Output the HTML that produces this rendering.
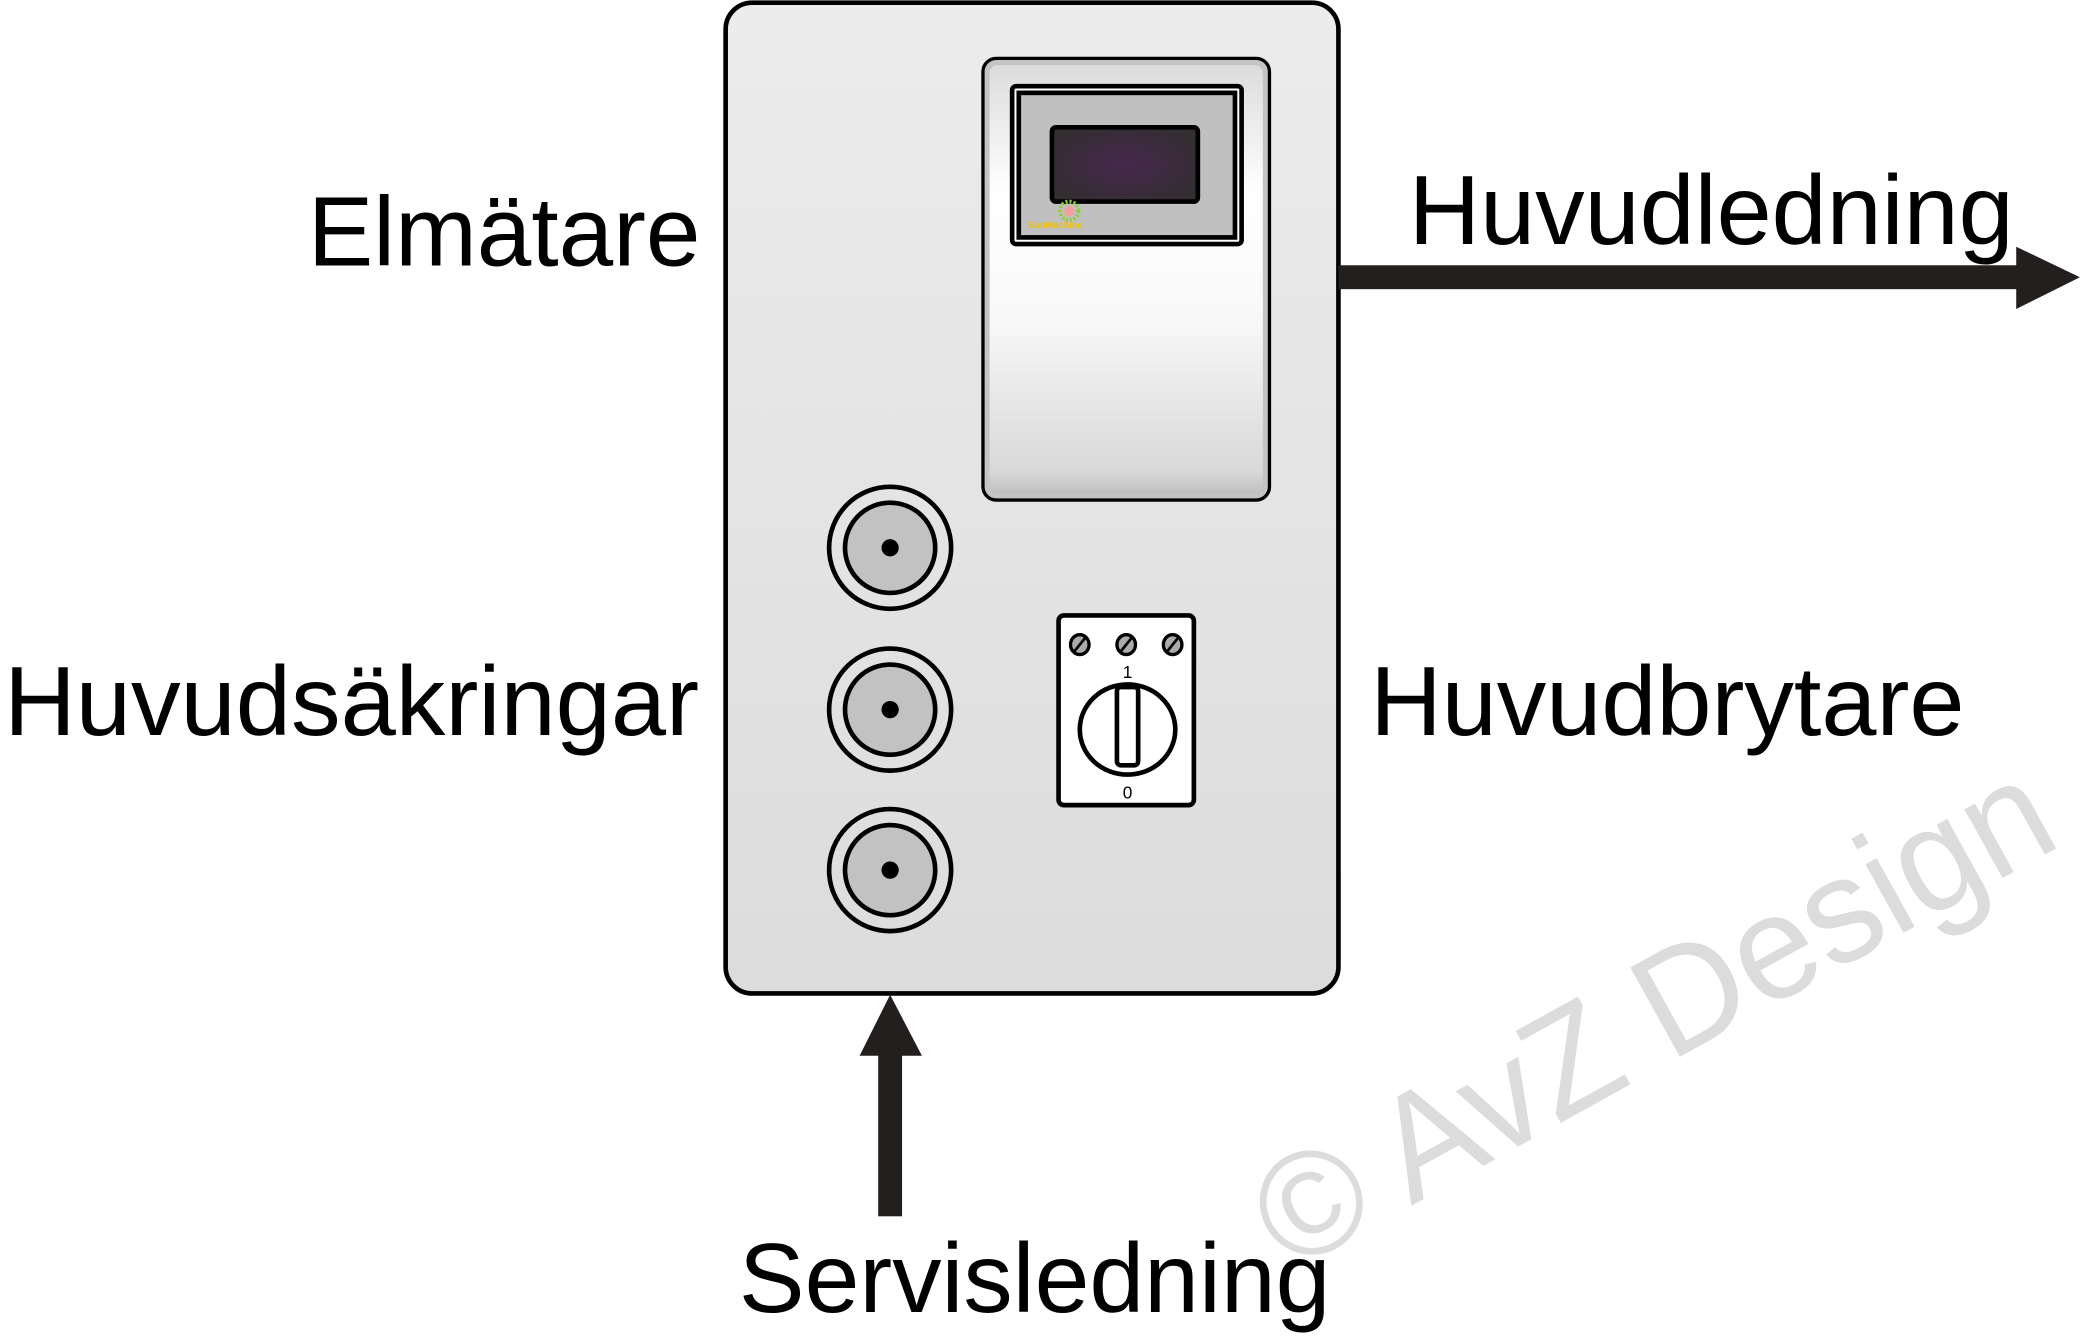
<!DOCTYPE html>
<html><head><meta charset="utf-8"><style>
html,body{margin:0;padding:0;background:#fff;}
svg{display:block;}
text{font-family:"Liberation Sans",Arial,sans-serif;}
</style></head><body>
<svg width="2080" height="1337" viewBox="0 0 1568 1008" xmlns="http://www.w3.org/2000/svg">
<defs>
<linearGradient id="pg" x1="0" y1="0" x2="0" y2="1">
<stop offset="0" stop-color="#ececec"/><stop offset="1" stop-color="#dcdcdc"/>
</linearGradient>
<linearGradient id="mg" x1="0" y1="0" x2="0" y2="1">
<stop offset="0" stop-color="#dcdcdc"/><stop offset="0.3" stop-color="#ffffff"/><stop offset="0.6" stop-color="#f8f8f8"/><stop offset="0.95" stop-color="#d8d8d8"/><stop offset="1" stop-color="#c0c0c0"/>
</linearGradient>
<radialGradient id="sg" cx="0.5" cy="0.5" r="0.6">
<stop offset="0" stop-color="#46284e"/><stop offset="1" stop-color="#332e30"/>
</radialGradient>
</defs>

<!-- watermark -->
<text x="0" y="0" transform="translate(972,960) rotate(-29)" font-size="112" fill="#dcdcdc" textLength="668" lengthAdjust="spacingAndGlyphs">© AvZ Design</text>

<!-- panel -->
<rect x="547" y="2" width="462" height="747" rx="20" fill="url(#pg)" stroke="#000" stroke-width="3.5"/>

<!-- meter -->
<rect x="741" y="44" width="216" height="333" rx="10" fill="#c4c4c4" stroke="#000" stroke-width="2.5"/>
<rect x="746" y="49" width="206" height="323" rx="6" fill="url(#mg)"/>
<rect x="763" y="65" width="173" height="119" rx="3" fill="#fff" stroke="#000" stroke-width="3.5"/>
<rect x="768" y="70" width="163" height="109" fill="#c0c0c0" stroke="#000" stroke-width="3.5"/>
<rect x="793" y="96" width="110" height="56" rx="3" fill="url(#sg)" stroke="#000" stroke-width="3.5"/>
<circle cx="806" cy="159" r="7" fill="none" stroke="#8ccf2e" stroke-width="3" stroke-dasharray="1.5 1.5"/>
<circle cx="806" cy="159" r="4" fill="#f2a0a0"/>
<text x="775" y="172" font-size="7" fill="#f0c000" font-weight="bold">SunMachine</text>

<!-- fuses -->
<g stroke="#000" stroke-width="3.5">
<circle cx="671" cy="413" r="46" fill="none"/>
<circle cx="671" cy="413" r="34" fill="#c2c2c2"/>
<circle cx="671" cy="535" r="46" fill="none"/>
<circle cx="671" cy="535" r="34" fill="#c2c2c2"/>
<circle cx="671" cy="656" r="46" fill="none"/>
<circle cx="671" cy="656" r="34" fill="#c2c2c2"/>
</g>
<circle cx="671" cy="413" r="6.5" fill="#000"/>
<circle cx="671" cy="535" r="6.5" fill="#000"/>
<circle cx="671" cy="656" r="6.5" fill="#000"/>

<!-- switch -->
<rect x="798" y="464" width="102" height="143" rx="4" fill="#fff" stroke="#000" stroke-width="3.5"/>
<g stroke="#000" stroke-width="2.5" fill="#aaa">
<ellipse cx="814" cy="486" rx="7" ry="7.5"/>
<ellipse cx="849" cy="486" rx="7" ry="7.5"/>
<ellipse cx="884" cy="486" rx="7" ry="7.5"/>
</g>
<g stroke="#000" stroke-width="2">
<line x1="810" y1="491" x2="818" y2="481"/>
<line x1="845" y1="491" x2="853" y2="481"/>
<line x1="880" y1="491" x2="888" y2="481"/>
</g>
<text x="850" y="511" font-size="13" text-anchor="middle">1</text>
<ellipse cx="850" cy="550" rx="36" ry="34" fill="#fff" stroke="#000" stroke-width="3.5"/>
<rect x="842" y="518" width="16" height="59" rx="3" fill="#fff" stroke="#000" stroke-width="3.5"/>
<text x="850" y="602" font-size="13" text-anchor="middle">0</text>

<!-- arrows -->
<rect x="1009" y="200" width="513" height="18" fill="#231f1e"/>
<polygon points="1520,186 1568,209 1520,233" fill="#231f1e"/>
<rect x="662" y="794" width="18" height="123" fill="#231f1e"/>
<polygon points="648,796 671,750 695,796" fill="#231f1e"/>

<!-- labels -->
<text x="232" y="200" font-size="74" textLength="296" lengthAdjust="spacingAndGlyphs">Elmätare</text>
<text x="1062" y="184" font-size="74" textLength="456" lengthAdjust="spacingAndGlyphs">Huvudledning</text>
<text x="3" y="554" font-size="74" textLength="524" lengthAdjust="spacingAndGlyphs">Huvudsäkringar</text>
<text x="1033" y="554" font-size="74" textLength="448" lengthAdjust="spacingAndGlyphs">Huvudbrytare</text>
<text x="557" y="989" font-size="74" textLength="446" lengthAdjust="spacingAndGlyphs">Servisledning</text>
</svg>
</body></html>
